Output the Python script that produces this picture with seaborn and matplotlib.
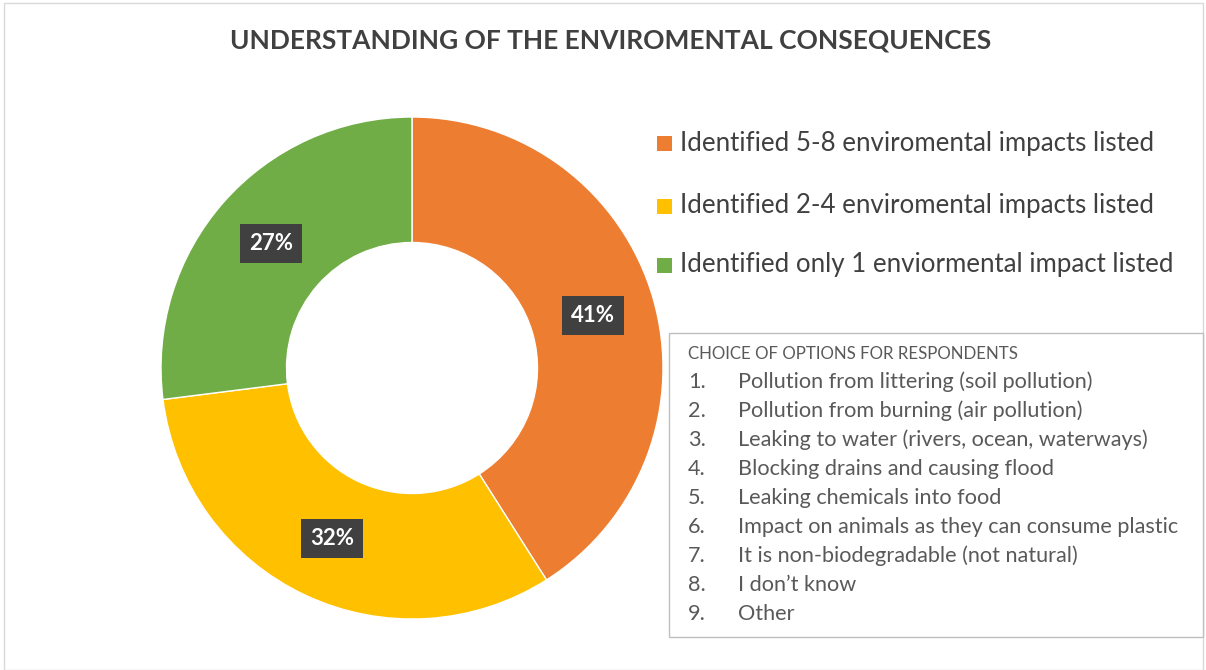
import seaborn as sns
import matplotlib.pyplot as plt
from matplotlib.patches import Rectangle

# data
categories = ["Identified 5-8 enviromental impacts listed",
              "Identified 2-4 enviromental impacts listed",
              "Identified only 1 enviormental impact listed"]
shares = [41, 32, 27]
colors = ["#ED7D31", "#FFC000", "#70AD47"]
options = ["Pollution from littering (soil pollution)",
           "Pollution from burning (air pollution)",
           "Leaking to water (rivers, ocean, waterways)",
           "Blocking drains and causing flood",
           "Leaking chemicals into food",
           "Impact on animals as they can consume plastic",
           "It is non-biodegradable (not natural)",
           "I don\u2019t know",
           "Other"]

sns.set_theme(style="white")
plt.rcParams['font.family'] = ['Lato', 'DejaVu Sans']
txt = "#404040"

W, H = 1206, 670
fig = plt.figure(figsize=(W / 100, H / 100), dpi=100)

# frame around the chart
fig.patches.append(Rectangle((4 / W, 0), 1199 / W, 667 / H, transform=fig.transFigure,
                             fill=False, edgecolor="#D9D9D9", lw=1))

cx, cy, r = 412, 368, 251
ax = fig.add_axes([(cx - r) / W, (H - cy - r) / H, 2 * r / W, 2 * r / H])
wedges, _, autotexts = ax.pie(shares, colors=colors, startangle=90, counterclock=False,
                              autopct='%1.0f%%', pctdistance=0.75,
                              wedgeprops=dict(width=0.5, edgecolor="white", linewidth=1))
for t in autotexts:
    t.set_color("white")
    t.set_fontweight("bold")
    t.set_fontsize(16)
    t.set_bbox(dict(boxstyle="square,pad=0.4", facecolor="#404040", edgecolor="none"))
ax.set_xlim(-1, 1)
ax.set_ylim(-1, 1)
ax.axis("off")

fig.text(611 / W, 1 - 40 / H, "UNDERSTANDING OF THE ENVIROMENTAL CONSEQUENCES",
         ha="center", va="center", fontsize=19, fontweight="bold", color=txt)

# legend
leg_y = [143, 206, 265]
for lab, col, y in zip(categories, colors, leg_y):
    fig.patches.append(Rectangle((657 / W, 1 - (y + 8) / H), 15 / W, 15 / H,
                                 transform=fig.transFigure, facecolor=col, edgecolor="none"))
    fig.text(680 / W, 1 - y / H, lab, ha="left", va="center", fontsize=18.6, color=txt)

# text box of options
fig.patches.append(Rectangle((669 / W, 1 - 637 / H), 534 / W, 304 / H,
                             transform=fig.transFigure, facecolor="white",
                             edgecolor="#BFBFBF", lw=1))
fig.text(688 / W, 1 - 354 / H, "CHOICE OF OPTIONS FOR RESPONDENTS",
         ha="left", va="center", fontsize=12.2, color="#595959")
for i, opt in enumerate(options):
    y = 382 + i * 29
    fig.text(688 / W, 1 - y / H, f"{i + 1}.", ha="left", va="center", fontsize=15.6, color="#595959")
    fig.text(738 / W, 1 - y / H, opt, ha="left", va="center", fontsize=15.6, color="#595959")

fig.savefig("out.png", dpi=100, facecolor="white")
